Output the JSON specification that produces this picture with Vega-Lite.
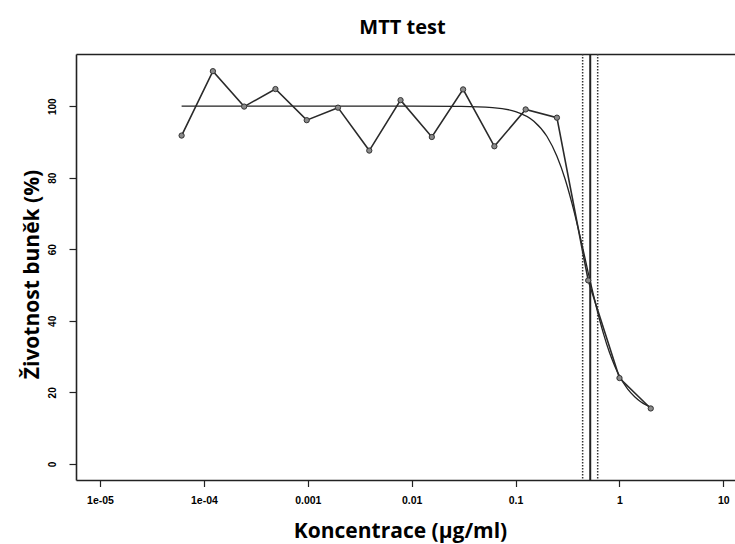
{
  "$schema": "https://vega.github.io/schema/vega-lite/v6.json",
  "width": 659,
  "height": 426,
  "autosize": {"type": "none"},
  "padding": {"left": 76, "top": 54, "right": 0, "bottom": 64},
  "background": "white",
  "title": {"text": "MTT test", "font": "Open Sans", "fontSize": 20, "fontWeight": "bold", "anchor": "middle", "dx": -3, "offset": -1, "baseline": "alphabetic", "color": "black"},
  "config": {"view": {"stroke": null}},
  "datasets": {
    "points": [
      {"c": 6.1035e-5, "v": 91.8}, {"c": 1.2207e-4, "v": 109.8}, {"c": 2.4414e-4, "v": 99.9},
      {"c": 4.8828e-4, "v": 104.8}, {"c": 9.7656e-4, "v": 96.1}, {"c": 0.0019531, "v": 99.6},
      {"c": 0.0039063, "v": 87.6}, {"c": 0.0078125, "v": 101.7}, {"c": 0.015625, "v": 91.4},
      {"c": 0.03125, "v": 104.7}, {"c": 0.0625, "v": 88.8}, {"c": 0.125, "v": 99.1},
      {"c": 0.25, "v": 96.8}, {"c": 0.5, "v": 51.3}, {"c": 1, "v": 24.0}, {"c": 2, "v": 15.5}
    ],
    "fit": [
      {"c": 6.1035e-5, "v": 100}, {"c": 0.001, "v": 100}, {"c": 0.01, "v": 100}, {"c": 0.03, "v": 99.93},
      {"c": 0.06, "v": 99.6}, {"c": 0.1, "v": 98.5}, {"c": 0.15, "v": 95.8}, {"c": 0.2, "v": 91.6},
      {"c": 0.25, "v": 86.0}, {"c": 0.3, "v": 79.6}, {"c": 0.35, "v": 72.7}, {"c": 0.4, "v": 65.9},
      {"c": 0.45, "v": 59.5}, {"c": 0.5, "v": 53.5}, {"c": 0.55, "v": 48.4}, {"c": 0.6, "v": 43.8},
      {"c": 0.7, "v": 36.5}, {"c": 0.8, "v": 31.2}, {"c": 0.9, "v": 27.4}, {"c": 1, "v": 24.6},
      {"c": 1.2, "v": 20.9}, {"c": 1.4, "v": 18.8}, {"c": 1.6, "v": 17.4}, {"c": 1.8, "v": 16.5}, {"c": 2, "v": 15.9}
    ],
    "ec": [
      {"c": 0.442, "kind": "ci"}, {"c": 0.523, "kind": "ec50"}, {"c": 0.617, "kind": "ci"}
    ]
  },
  "layer": [
    {
      "data": {"name": "ec"},
      "transform": [{"filter": "datum.kind == 'ci'"}],
      "mark": {"type": "rule", "color": "#333", "strokeWidth": 1.5, "strokeDash": [1.5, 1.5]},
      "encoding": {
        "x": {"field": "c", "type": "quantitative", "scale": {"type": "log", "domain": [5.875e-6, 12.94], "nice": false},
          "axis": {"orient": "top", "labels": false, "ticks": false, "grid": false, "title": null, "domain": true, "domainColor": "#222", "domainWidth": 1.6}}
      }
    },
    {
      "data": {"name": "ec"},
      "transform": [{"filter": "datum.kind == 'ec50'"}],
      "mark": {"type": "rule", "color": "#222", "strokeWidth": 2},
      "encoding": {
        "x": {"field": "c", "type": "quantitative", "axis": null}
      }
    },
    {
      "data": {"name": "fit"},
      "mark": {"type": "line", "color": "#222", "strokeWidth": 1.3, "interpolate": "monotone"},
      "encoding": {
        "x": {"field": "c", "type": "quantitative", "axis": null},
        "y": {"field": "v", "type": "quantitative"}
      }
    },
    {
      "data": {"name": "points"},
      "mark": {"type": "line", "color": "#2a2a2a", "strokeWidth": 1.6},
      "encoding": {
        "x": {"field": "c", "type": "quantitative", "axis": null},
        "y": {"field": "v", "type": "quantitative"}
      }
    },
    {
      "data": {"name": "points"},
      "mark": {"type": "point", "shape": "circle", "filled": true, "size": 28, "fill": "#8a8a8a", "stroke": "#333", "strokeWidth": 1, "opacity": 1},
      "encoding": {
        "x": {"field": "c", "type": "quantitative",
          "axis": {"orient": "bottom", "values": [0.00001, 0.0001, 0.001, 0.01, 0.1, 1, 10],
            "labelExpr": "datum.value < 0.00005 ? '1e-05' : datum.value < 0.0005 ? '1e-04' : datum.value < 0.005 ? '0.001' : datum.value < 0.05 ? '0.01' : datum.value < 0.5 ? '0.1' : datum.value < 5 ? '1' : '10'",
            "labelFont": "Liberation Sans", "labelFontSize": 10.5, "labelFontWeight": "bold", "labelColor": "black",
            "labelPadding": 9, "labelOverlap": false, "labelFlush": false, "labelBound": false,
            "tickSize": 6.5, "tickColor": "#222", "tickWidth": 1.2, "grid": false,
            "domainColor": "#222", "domainWidth": 1.6,
            "title": "Koncentrace (μg/ml)", "titleFont": "Open Sans", "titleFontSize": 21, "titleFontWeight": "bold", "titleColor": "black",
            "titleX": 324, "titleY": 57, "titleAlign": "center", "titleBaseline": "alphabetic"}},
        "y": {"field": "v", "type": "quantitative",
          "scale": {"domain": [-4.5, 114.6], "nice": false, "zero": false},
          "axis": {"values": [0, 20, 40, 60, 80, 100], "labelAngle": -90, "labelAlign": "center", "labelBaseline": "alphabetic",
            "labelFont": "Liberation Sans", "labelFontSize": 10, "labelFontWeight": "bold", "labelColor": "black",
            "labelPadding": 14, "labelOverlap": false, "labelFlush": false,
            "tickSize": 7, "tickColor": "#222", "tickWidth": 1.2, "grid": false,
            "domainColor": "#222", "domainWidth": 1.6,
            "title": "Životnost buněk (%)", "titleFont": "Open Sans", "titleFontSize": 21, "titleFontWeight": "bold", "titleColor": "black",
            "titleAngle": -90, "titleX": -38, "titleY": 220, "titleAlign": "center", "titleBaseline": "alphabetic"}}
      }
    }
  ],
  "resolve": {"axis": {"x": "independent"}}
}
